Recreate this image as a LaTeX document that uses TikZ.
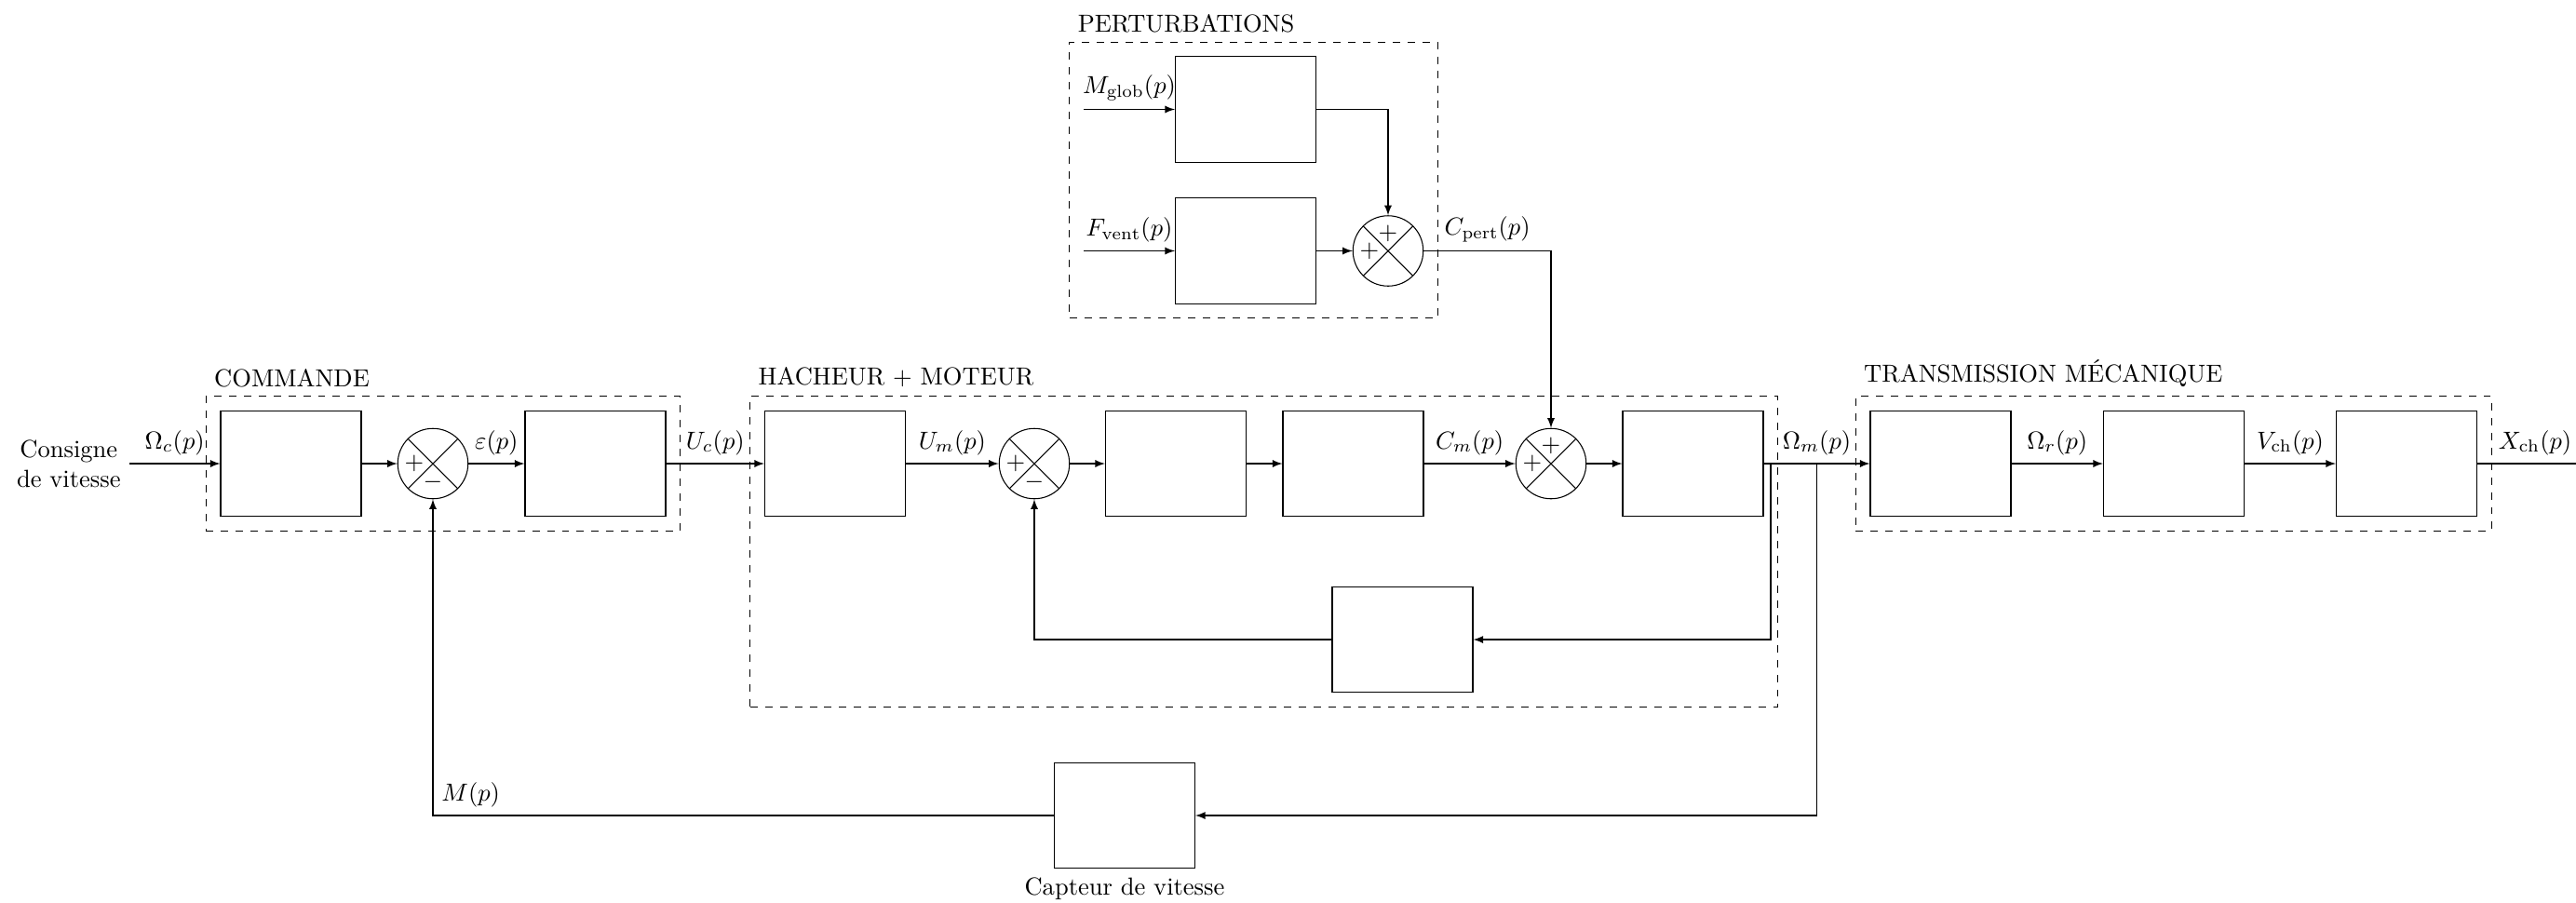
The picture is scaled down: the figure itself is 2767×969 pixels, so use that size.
\documentclass[tikz,border=0pt]{standalone}
\usepackage{fontspec}
\usetikzlibrary{calc,fit}
\begin{document}
\begin{tikzpicture}[x=0.013245cm,y=-0.013245cm,>=latex,
  blk/.style={draw, minimum width=2cm, minimum height=1.5cm, inner sep=0pt},
  sumn/.style={draw, circle, minimum size=1cm, inner sep=0pt,
    path picture={\draw (path picture bounding box.north west) -- (path picture bounding box.south east)
      (path picture bounding box.north east) -- (path picture bounding box.south west);}},
  grp/.style={draw, dashed, inner sep=0.2cm},
  sig/.style={inner sep=0pt}]
\useasboundingbox (0,0) rectangle (2767,969);

% main chain
\node[blk] (B1) at (312.5,498) {};
\node[sumn] (S1) at (465,498) {};
\node[blk] (B2) at (639.5,498) {};
\node[blk] (B3) at (897,498) {};
\node[sumn] (S2) at (1111,498) {};
\node[blk] (B4) at (1263,498) {};
\node[blk] (B5) at (1453.5,498) {};
\node[sumn] (S3) at (1666,498) {};
\node[blk] (B6) at (1818.5,498) {};
\node[blk] (T1) at (2084.5,498) {};
\node[blk] (T2) at (2335,498) {};
\node[blk] (T3) at (2585,498) {};
\node[blk] (BF) at (1506.5,687) {};
\node[blk] (CAP) at (1208,876) {};
\node[below] (capt) at (CAP.south) {Capteur de vitesse};

% perturbations
\node[blk] (P1) at (1338,117.5) {};
\node[blk] (P2) at (1338,269.5) {};
\node[sumn] (S4) at (1491,269.5) {};

% signs
\node[sig] (S1a) at ($(S1)+(-20,0)$) {$+$};
\node[sig] (S1b) at ($(S1)+(0,20)$) {$-$};
\node[sig] (S2a) at ($(S2)+(-20,0)$) {$+$};
\node[sig] (S2b) at ($(S2)+(0,20)$) {$-$};
\node[sig] (S3a) at ($(S3)+(-20,0)$) {$+$};
\node[sig] (S3b) at ($(S3)+(0,-19)$) {$+$};
\node[sig] (S4a) at ($(S4)+(-20,0)$) {$+$};
\node[sig] (S4b) at ($(S4)+(0,-19)$) {$+$};

% input
\coordinate (in) at (139,498);
\node[left, align=center] (cons) at (in) {Consigne\\de vitesse};
\draw[->] (in) -- node[above] (lOc) {$\Omega_c(p)$} (B1);
\draw[->] (B1) -- (S1);
\draw[->] (S1) -- node[above] (leps) {$\varepsilon(p)$} (B2);
\draw[->] (B2) -- node[above] (lUc) {$U_c(p)$} (B3);
\draw[->] (B3) -- node[above] (lUm) {$U_m(p)$} (S2);
\draw[->] (S2) -- (B4);
\draw[->] (B4) -- (B5);
\draw[->] (B5) -- node[above] (lCm) {$C_m(p)$} (S3);
\draw[->] (S3) -- (B6);
\draw[->] (B6) -- node[above] (lOm) {$\Omega_m(p)$} (T1);
\draw[->] (T1) -- node[above] (lOr) {$\Omega_r(p)$} (T2);
\draw[->] (T2) -- node[above] (lVch) {$V_{\mathrm{ch}}(p)$} (T3);
\coordinate (out) at (2785,498);
\draw[->] (T3) -- node[above] (lXch) {$X_{\mathrm{ch}}(p)$} (out);

% inner feedback
\coordinate (j1) at (1902,498);
\coordinate (j1b) at (1902,687);
\draw[->] (j1) -- (j1b) -- (BF.east);
\draw[->] (BF.west) -| (S2.south);

% outer feedback
\coordinate (j2) at (1951.5,498);
\draw[->] (j2) |- (CAP.east);
\draw[->] (CAP.west) -| node[pos=0.5, above right] (lM) {$M(p)$} (S1.south);

% perturbation connections
\coordinate (mg) at (1164,117.5);
\coordinate (fv) at (1164,269.5);
\draw[->] (mg) -- node[above] (lMg) {$M_{\mathrm{glob}}(p)$} (P1);
\draw[->] (fv) -- node[above] (lFv) {$F_{\mathrm{vent}}(p)$} (P2);
\draw[->] (P1.east) -| (S4.north);
\draw[->] (P2) -- (S4);
\draw[->] (S4.east) -| node[pos=0.25, above] (lCp) {$C_{\mathrm{pert}}(p)$} (S3.north);

% groups
\node[grp, fit=(B1)(S1)(B2)] (gCmd) {};
\node[anchor=south west] (tCmd) at (gCmd.north west) {COMMANDE};
\node[grp, fit=(B3)(B6)(BF)] (gHach) {};
\node[anchor=south west] (tHach) at (gHach.north west) {HACHEUR + MOTEUR};
\node[grp, fit=(T1)(T3)] (gTrans) {};
\node[anchor=south west] (tTrans) at (gTrans.north west) {TRANSMISSION MÉCANIQUE};
\node[grp, fit=(mg)(P1)(P2)(S4)] (gPert) {};
\node[anchor=south west] (tPert) at (gPert.north west) {PERTURBATIONS};
\end{tikzpicture}
\end{document}
